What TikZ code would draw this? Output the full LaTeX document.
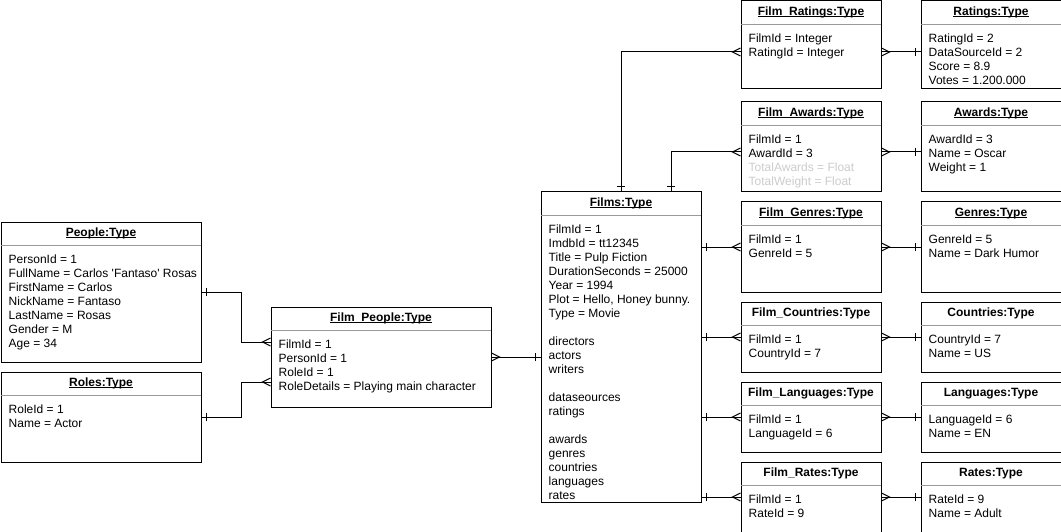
\documentclass[tikz,border=0pt]{standalone}
\usepackage{fontspec}
\setmainfont{Liberation Sans}
\usetikzlibrary{calc,decorations.markings}
\definecolor{sepgray}{gray}{0.6}
\definecolor{ghost}{gray}{0.8}
\newcommand\hul[1]{\setbox0\hbox{#1}\rlap{\rule[-1.6pt]{\wd0}{0.8pt}}\box0}
\tikzset{
  entitybox/.style={draw, line width=1pt, fill=white, anchor=north west, inner sep=0pt},
  sepline/.style={draw=sepgray, line width=1pt},
  hdr/.style={anchor=base, inner sep=0pt, font=\fontsize{12}{14}\selectfont\bfseries},
  bodytext/.style={anchor=base west, inner sep=0pt, font=\fontsize{12}{14}\selectfont},
  conn/.style={draw, line width=1pt},
  tick start/.style={postaction={decorate, decoration={markings,
      mark=at position 5pt with {\draw[line width=1pt] (0pt,-4pt) -- (0pt,4pt);}}}},
  tick end/.style={postaction={decorate, decoration={markings,
      mark=at position -5pt with {\draw[line width=1pt] (0pt,-4pt) -- (0pt,4pt);}}}},
  crow start/.style={postaction={decorate, decoration={markings,
      mark=at position 8pt with {\draw[line width=1pt] (-8pt,4pt) -- (0pt,0pt) -- (-8pt,-4pt);}}}},
  crow end/.style={postaction={decorate, decoration={markings,
      mark=at position -8pt with {\draw[line width=1pt] (8pt,4pt) -- (0pt,0pt) -- (8pt,-4pt);}}}},
}
% name, x, y, w, h, header, body
\newcommand\erbox[7]{%
  \node[entitybox, minimum width=#4pt, minimum height=#5pt] (#1) at (#2,#3) {};
  \draw[sepline] ($(#1.north west)+(0.5,24)$) -- ($(#1.north east)+(-0.5,24)$);
  \node[hdr] (#1-h) at ($(#1.north)+(0,15)$) {#6};
  \node[bodytext] (#1-b) at ($(#1.north west)+(8,42)$) {\begin{tabular}[t]{@{}l@{}}#7\end{tabular}};
}
\begin{document}
\begin{tikzpicture}[x=1pt, y=-1pt]
\fill[white] (0,0) rectangle (1061,532);
\useasboundingbox (0,0) rectangle (1061,532);

\erbox{people}{0.5}{221.5}{200}{140}{\hul{People:Type}}
  {PersonId = 1\\FullName = Carlos \textquotesingle Fantaso\textquotesingle{} Rosas\\FirstName = Carlos\\NickName = Fantaso\\LastName = Rosas\\Gender = M\\Age = 34}
\erbox{roles}{0.5}{371.5}{200}{90}{\hul{Roles:Type}}
  {RoleId = 1\\Name = Actor}
\erbox{filmpeople}{270.5}{306.5}{220}{100}{\hul{Film\_People:Type}}
  {FilmId = 1\\PersonId = 1\\RoleId = 1\\RoleDetails = Playing main character}
\erbox{films}{540.5}{191.5}{160}{310}{\hul{Films:Type}}
  {FilmId = 1\\ImdbId = tt12345\\Title = Pulp Fiction\\DurationSeconds = 25000\\Year = 1994\\Plot = Hello, Honey bunny.\\Type = Movie\\ \\directors\\actors\\writers\\ \\dataseources\\ratings\\ \\awards\\genres\\countries\\languages\\rates}

\erbox{filmratings}{740.5}{0.5}{140}{88}{\hul{Film\_Ratings:Type}}
  {FilmId = Integer\\RatingId = Integer}
\erbox{ratings}{920.5}{0.5}{140}{88}{\hul{Ratings:Type}}
  {RatingId = 2\\DataSourceId = 2\\Score = 8.9\\Votes = 1.200.000}
\erbox{filmawards}{740.5}{101.5}{140}{90}{\hul{Film\_Awards:Type}}
  {FilmId = 1\\AwardId = 3\\\textcolor{ghost}{TotalAwards = Float}\\\textcolor{ghost}{TotalWeight = Float}}
\erbox{awards}{920.5}{101.5}{140}{90}{\hul{Awards:Type}}
  {AwardId = 3\\Name = Oscar\\Weight = 1}
\erbox{filmgenres}{740.5}{201.5}{140}{90}{\hul{Film\_Genres:Type}}
  {FilmId = 1\\GenreId = 5}
\erbox{genres}{920.5}{201.5}{140}{90}{\hul{Genres:Type}}
  {GenreId = 5\\Name = Dark Humor}
\erbox{filmcountries}{740.5}{301.5}{140}{70}{Film\_Countries:Type}
  {FilmId = 1\\CountryId = 7}
\erbox{countries}{920.5}{301.5}{140}{70}{Countries:Type}
  {CountryId = 7\\Name = US}
\erbox{filmlanguages}{740.5}{381.5}{140}{70}{Film\_Languages:Type}
  {FilmId = 1\\LanguageId = 6}
\erbox{languages}{920.5}{381.5}{140}{70}{Languages:Type}
  {LanguageId = 6\\Name = EN}
\erbox{filmrates}{740.5}{461.5}{140}{70}{Film\_Rates:Type}
  {FilmId = 1\\RateId = 9}
\erbox{rates}{920.5}{461.5}{140}{70}{Rates:Type}
  {RateId = 9\\Name = Adult}

% left side
\draw[conn, tick start, crow end] (people.east) -- ++(40,0) |- ($(filmpeople.west)+(0,-15)$);
\draw[conn, tick start, crow end] (roles.east) -- ++(40,0) |- ($(filmpeople.west)+(0,25)$);
\draw[conn, crow start, tick end] (filmpeople.east) -- (films.west |- filmpeople.east);

% films to junction tables
\draw[conn, tick start, crow end] (films.north) |- ($(filmratings.north west)+(0,51.5)$);
\draw[conn, tick start, crow end] ($(films.north)+(50,0)$) |- ($(filmawards.north west)+(0,50.5)$);
\draw[conn, tick start, crow end] (films.east |- filmgenres.west) -- (filmgenres.west);
\draw[conn, tick start, crow end] (films.east |- filmcountries.west) -- (filmcountries.west);
\draw[conn, tick start, crow end] (films.east |- filmlanguages.west) -- (filmlanguages.west);
\draw[conn, tick start, crow end] (films.east |- filmrates.west) -- (filmrates.west);

% junction tables to lookup tables
\draw[conn, crow start, tick end] ($(filmratings.north east)+(0,51.5)$) -- ($(ratings.north west)+(0,51.5)$);
\draw[conn, crow start, tick end] ($(filmawards.north east)+(0,50.5)$) -- ($(awards.north west)+(0,50.5)$);
\draw[conn, crow start, tick end] (filmgenres.east) -- (genres.west);
\draw[conn, crow start, tick end] (filmcountries.east) -- (countries.west);
\draw[conn, crow start, tick end] (filmlanguages.east) -- (languages.west);
\draw[conn, crow start, tick end] (filmrates.east) -- (rates.west);
\end{tikzpicture}
\end{document}
